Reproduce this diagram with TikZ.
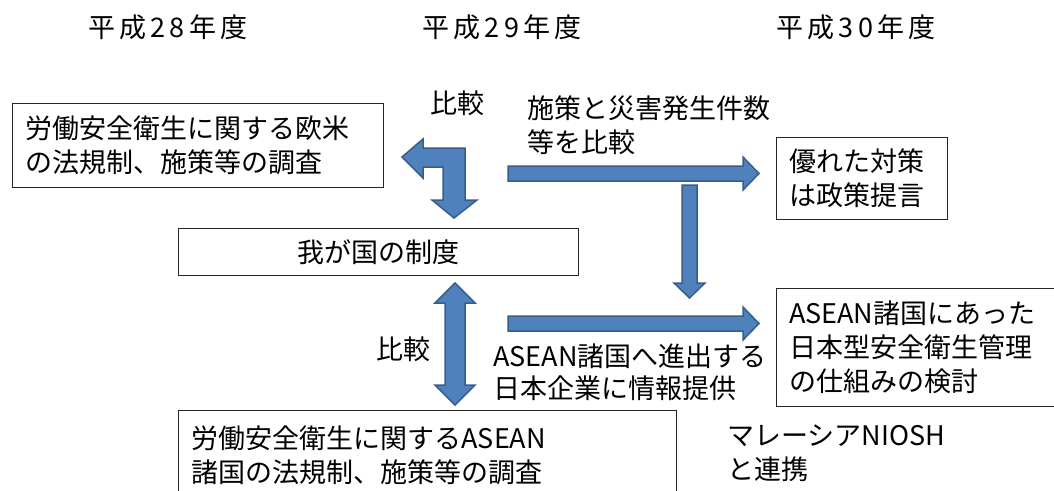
\documentclass[tikz,border=0pt]{standalone}
\usepackage{fontspec}
\setmainfont{Noto Sans CJK JP}
\newfontfamily\hdrfamily[LetterSpace=15]{Noto Sans CJK JP}
\definecolor{arrowfill}{HTML}{4F81BD}
\definecolor{arrowedge}{HTML}{385D8A}
\newcommand{\bodyfont}{\fontsize{27}{34}\selectfont}
\newcommand{\hdrfont}{\hdrfamily\fontsize{27}{30}\selectfont}
\begin{document}
\begin{tikzpicture}[x=1pt,y=-1pt,
  box/.style={draw=black!85, line width=1pt, inner xsep=13pt, inner ysep=0pt, align=left, font=\bodyfont},
  lbl/.style={inner sep=0pt, align=left, font=\bodyfont},
  hdr/.style={inner sep=0pt, font=\hdrfont},
  blockarrow/.style={fill=arrowfill, draw=arrowedge, line width=1.5pt, line join=miter}]
\useasboundingbox (0,0) rectangle (1054,490);
% headers
\node[hdr] (h28) at (168,27) {平成28年度};
\node[hdr] (h29) at (502,27) {平成29年度};
\node[hdr] (h30) at (856,27) {平成30年度};
% boxes
\node[box, text width=345pt, minimum height=84pt] (obei) at (197.5,145) {労働安全衛生に関する欧米\\の法規制、施策等の調査};
\node[box, align=center, text width=374pt, minimum height=47pt] (wagakuni) at (378,252) {我が国の制度};
\node[box, text width=145pt, minimum height=82pt] (teigen) at (861.5,178) {優れた対策\\は政策提言};
\node[box, text width=252pt, minimum height=118pt] (asean) at (915,347) {ASEAN諸国にあった\\日本型安全衛生管理\\の仕組みの検討};
\node[box, text width=472pt, minimum height=90pt, anchor=north west] (aseanlaw) at (178,410) {労働安全衛生に関するASEAN\\諸国の法規制、施策等の調査};
% labels
\node[lbl] (hikaku1) at (457,103) {比較};
\node[lbl, anchor=west] (shisaku) at (527,125.5) {施策と災害発生件数\\等を比較};
\node[lbl] (hikaku2) at (403,349) {比較};
\node[lbl, anchor=west, font=\fontsize{27}{32}\selectfont] (joho) at (493,372) {ASEAN諸国へ進出する\\日本企業に情報提供};
\node[lbl, anchor=west] (niosh) at (727,453) {マレーシアNIOSH\\と連携};
% block arrows
\draw[blockarrow] (402,157) -- (423,139) -- (423,148) -- (465,148) -- (465,200) -- (477,200) -- (454,218) -- (432,200) -- (443,200) -- (443,167) -- (423,167) -- (423,178) -- cycle;
\draw[blockarrow] (455,283) -- (475,303) -- (465,303) -- (465,385) -- (475,385) -- (455,405) -- (435,385) -- (445,385) -- (445,303) -- (435,303) -- cycle;
\draw[blockarrow] (508,166) -- (743,166) -- (743,157) -- (759,173.5) -- (743,190) -- (743,181) -- (508,181) -- cycle;
\draw[blockarrow] (682,185) -- (697,185) -- (697,283) -- (705,283) -- (689.5,298) -- (674,283) -- (682,283) -- cycle;
\draw[blockarrow] (508,316) -- (743,316) -- (743,307) -- (759,323.5) -- (743,340) -- (743,331) -- (508,331) -- cycle;
\end{tikzpicture}
\end{document}
